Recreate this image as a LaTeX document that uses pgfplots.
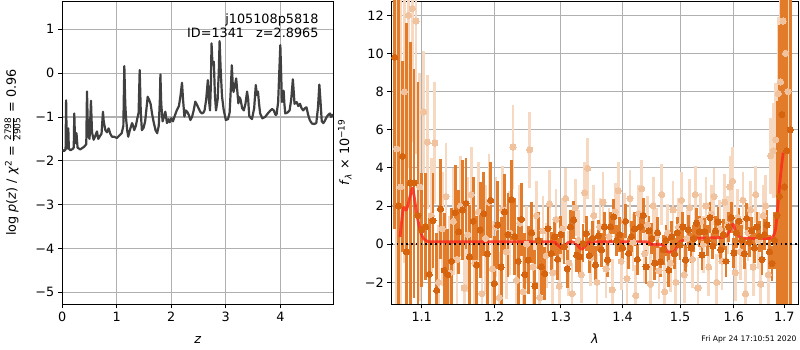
\documentclass[border=0pt]{standalone}
\usepackage{fontspec}
\setmainfont{DejaVu Sans}
\usepackage{amsmath}
\usepackage{pgfplots}
\usepackage{pgfplotstable}
\pgfplotsset{compat=1.18}

\definecolor{curve}{RGB}{64,64,64}
\definecolor{gridc}{RGB}{176,176,176}
\definecolor{dbar}{RGB}{226,124,42}
\definecolor{ddot}{RGB}{214,100,14}
\definecolor{lbar}{RGB}{247,216,192}
\definecolor{ldot}{RGB}{241,194,158}
\definecolor{model}{RGB}{250,45,30}

\pgfplotstableread{
x y e
1.065 9.8 9.0
1.070 2.0 11.0
1.075 4.6 5.0
1.080 -0.4 12.0
1.085 3.2 7.4
1.090 3.2 6.0
1.095 1.5 7.0
1.100 0.74 3.0
1.105 0.91 2.8
1.110 -1.58 3.2
1.115 1.23 2.5
1.120 -2.42 3.0
1.125 1.84 2.6
1.130 -1.37 3.0
1.135 -1.60 2.4
1.140 -0.9 2.8
1.145 1.65 2.5
1.150 0.65 2.2
1.155 1.79 2.6
1.160 2.14 2.4
1.165 -0.67 2.7
1.170 1.2 2.3
1.175 -1.1 2.6
1.180 0.74 2.5
1.185 1.6 2.2
1.190 -0.5 2.8
1.195 2.3 2.0
1.200 -2.07 2.5
1.205 1.0 2.3
1.210 -1.2 2.6
1.215 1.7 2.0
1.220 0.5 2.2
1.225 2.32 2.1
1.230 0.4 2.0
1.235 -0.9 2.3
1.240 1.3 1.9
1.245 -1.6 2.2
1.250 -0.84 1.8
1.255 0.6 1.6
1.260 -2.2 1.9
1.265 0.2 1.5
1.270 -1.19 1.5
1.275 -1.54 1.4
1.280 0.82 1.3
1.285 -0.49 1.1
1.290 0.38 1.0
1.295 -0.8 1.1
1.300 0.5 1.0
1.305 -0.14 0.9
1.310 -1.3 1.0
1.315 0.91 0.9
1.320 1.26 1.0
1.325 -0.58 0.9
1.330 -0.67 0.9
1.335 0.04 1.0
1.340 0.56 0.9
1.345 -0.6 0.9
1.350 0.3 0.9
1.355 -1.1 1.0
1.360 0.45 0.8
1.365 -0.3 0.9
1.370 0.9 0.8
1.375 -0.84 0.9
1.380 0.91 0.8
1.385 1.44 0.9
1.390 0.2 0.8
1.395 0.5 0.9
1.400 -0.2 0.8
1.405 1.2 0.9
1.410 -0.49 0.8
1.415 0.4 0.8
1.420 0.8 0.9
1.425 -0.8 0.8
1.430 0.9 0.8
1.435 1.5 0.9
1.440 -1.19 0.9
1.445 0.7 0.8
1.450 0.3 0.8
1.455 -1.0 0.9
1.460 0.6 0.8
1.465 -0.93 0.8
1.470 -0.3 0.8
1.475 0.2 0.8
1.480 -1.37 0.9
1.485 0.39 0.8
1.490 -0.5 0.8
1.495 0.6 0.8
1.500 -0.05 0.8
1.505 0.9 0.8
1.510 -0.84 0.8
1.515 0.74 0.8
1.520 -0.2 0.8
1.525 0.3 0.7
1.530 1.1 0.8
1.535 0.65 0.8
1.540 -0.58 0.8
1.545 0.65 0.7
1.550 0.2 0.8
1.555 1.4 0.8
1.560 -0.1 0.7
1.565 0.7 0.8
1.570 1.17 0.8
1.575 -0.3 0.7
1.580 0.5 0.8
1.585 -0.9 0.8
1.590 0.91 0.8
1.595 1.4 0.8
1.600 -0.47 0.8
1.605 0.6 0.8
1.610 1.2 0.7
1.615 0.2 0.8
1.620 -0.5 0.8
1.625 1.35 0.8
1.630 0.1 0.8
1.635 0.7 0.7
1.640 -0.2 0.8
1.645 0.9 0.8
1.650 0.4 0.8
1.655 -0.8 0.8
1.660 0.5 0.8
1.665 1.0 0.8
1.670 -0.4 0.9
1.675 -1.02 0.9
1.680 0.2 1.5
1.685 1.5 6.0
1.690 2.5 9.0
1.695 6.8 10.0
1.700 3.0 12.0
1.705 4.9 14.0
1.712 6.0 16.0
}\darkdata

\pgfplotstableread{
x y e
1.0675 5.0 12
1.0725 3.0 10
1.0775 8.0 9
1.0825 12.0 8
1.0875 12.35 7
1.0925 11.7 7
1.0975 3.0 6
1.1025 6.93 3.2
1.1075 5.35 3.5
1.1125 1.5 3.0
1.1175 5.3 3.2
1.1225 -2.0 3.0
1.1275 0.8 3.0
1.1325 2.5 2.8
1.1375 -1.5 3.0
1.1425 1.2 2.8
1.1475 -0.8 3.0
1.1525 2.0 2.6
1.1575 -2.3 2.8
1.1625 0.5 3.0
1.1675 2.6 2.5
1.1725 -1.0 2.7
1.1775 1.7 2.6
1.1825 -2.6 2.5
1.1875 0.3 2.8
1.1925 2.2 2.5
1.1975 -1.3 2.5
1.2025 0.9 2.6
1.2075 -2.8 2.4
1.2125 1.8 2.3
1.2175 -0.4 2.5
1.2225 0.6 2.2
1.2275 5.09 2.2
1.2325 -1.9 2.3
1.2375 1.1 2.0
1.2425 -2.5 2.2
1.2475 0.0 2.0
1.2525 4.95 2.0
1.2575 -1.2 2.0
1.2625 1.5 1.8
1.2675 -2.8 1.9
1.2725 0.7 1.8
1.2775 -0.6 1.7
1.2825 2.1 1.8
1.2875 -1.5 1.7
1.2925 1.3 1.6
1.2975 -2.2 1.7
1.3025 0.8 1.6
1.3075 2.4 1.6
1.3125 -1.0 1.7
1.3175 -2.6 1.6
1.3225 1.9 1.5
1.3275 0.2 1.6
1.3325 -1.6 1.5
1.3375 2.7 1.6
1.3425 3.98 1.6
1.3475 -0.7 1.5
1.3525 1.5 1.6
1.3575 -2.0 1.5
1.3625 0.9 1.5
1.3675 2.2 1.6
1.3725 -1.3 1.5
1.3775 0.4 1.5
1.3825 -2.4 1.6
1.3875 1.7 1.5
1.3925 2.8 1.5
1.3975 -0.9 1.5
1.4025 1.2 1.5
1.4075 -1.8 1.6
1.4125 2.4 1.5
1.4175 0.1 1.5
1.4225 -2.7 1.6
1.4275 1.6 1.5
1.4325 2.9 1.5
1.4375 -0.5 1.5
1.4425 1.0 1.5
1.4475 -2.1 1.6
1.4525 2.0 1.5
1.4575 0.4 1.5
1.4625 -1.4 1.5
1.4675 2.6 1.6
1.4725 -2.5 1.5
1.4775 0.6 1.5
1.4825 -1.0 1.5
1.4875 1.8 1.5
1.4925 -2.0 1.6
1.4975 0.9 1.5
1.5025 2.3 1.5
1.5075 -1.6 1.5
1.5125 0.3 1.5
1.5175 1.9 1.5
1.5225 -0.8 1.5
1.5275 2.6 1.5
1.5325 -2.3 1.6
1.5375 1.2 1.5
1.5425 0.0 1.5
1.5475 2.0 1.5
1.5525 -1.2 1.5
1.5575 1.6 1.5
1.5625 2.5 1.5
1.5675 -2.0 1.5
1.5725 0.8 1.5
1.5775 -0.9 1.5
1.5825 2.2 1.5
1.5875 1.0 1.5
1.5925 3.0 1.6
1.5975 3.3 1.8
1.6025 -1.5 1.5
1.6075 1.4 1.5
1.6125 -0.4 1.5
1.6175 2.3 1.5
1.6225 -2.6 1.6
1.6275 0.6 1.5
1.6325 1.8 1.5
1.6375 -1.2 1.5
1.6425 2.6 1.5
1.6475 0.2 1.5
1.6525 -2.1 1.5
1.6575 1.5 1.6
1.6625 2.0 1.6
1.6675 -1.6 1.7
1.6725 4.63 2.0
1.6775 4.9 2.5
1.6825 5.47 3.0
1.6875 7.9 4.0
1.6925 8.5 5.0
1.6975 11.7 8.0
1.7025 10.0 10.0
1.7075 8.0 12.0
}\lightdata

\pgfplotsset{
  every axis/.append style={
    scale only axis,
    font=\fontsize{12.8}{15}\selectfont,
    axis line style={black, line width=0.9pt},
    grid=major,
    major grid style={gridc, line width=1.1pt},
    tick align=outside,
    tick pos=left,
    major tick length=4.5pt,
    tick style={black, line width=0.9pt},
    /pgf/number format/assume math mode=true,
    xlabel style={at={(axis description cs:0.5,-0.132)}, anchor=base},
  }
}

\begin{document}
\begin{tikzpicture}
\useasboundingbox (0,0) rectangle (800pt,350pt);

\begin{axis}[
  at={(62.3pt,46pt)}, anchor=south west,
  width=271pt, height=303pt,
  xmin=0, xmax=4.972, ymin=-5.267, ymax=1.646,
  xtick={0,1,2,3,4},
  ytick={-5,-4,-3,-2,-1,0,1},
  yticklabels={−5,−4,−3,−2,−1,0,1},
  xlabel={\textit{z}},
  ylabel={log \textit{p}(\textit{z}) / \textit{χ}\textsuperscript{2} = $\frac{\text{2798}}{\text{2905}}$ = 0.96},
  ylabel style={at={(axis description cs:-0.171,0.5)}, anchor=base},
]
\addplot[curve, line width=2.2pt, line join=round] coordinates {
(0.00,-1.75) (0.03,-1.78) (0.06,-1.74) (0.07,-0.62) (0.08,-1.5) (0.09,-1.72) (0.10,-1.45) (0.11,-1.26) (0.12,-1.72) (0.15,-1.76) (0.19,-1.73) (0.21,-1.7) (0.22,-0.92) (0.235,-1.6) (0.25,-1.4) (0.26,-1.37) (0.28,-1.7) (0.33,-1.74) (0.40,-1.68) (0.44,-1.62) (0.453,-0.42) (0.47,-1.3) (0.48,-1.45) (0.50,-1.5) (0.526,-0.63) (0.545,-1.35) (0.575,-1.52) (0.60,-1.45) (0.636,-1.33) (0.66,-1.5) (0.685,-1.45) (0.72,-1.38) (0.746,-0.88) (0.76,-1.1) (0.79,-1.3) (0.82,-1.35) (0.85,-1.26) (0.88,-1.38) (0.91,-1.45) (0.95,-1.45) (1.00,-1.48) (1.05,-1.42) (1.09,-1.37) (1.12,-1.2) (1.138,0.16) (1.155,-0.7) (1.17,-1.03) (1.19,-1.3) (1.21,-1.45) (1.24,-1.3) (1.28,-1.14) (1.30,-1.2) (1.32,-1.3) (1.35,-1.2) (1.37,-1.07) (1.40,-0.9) (1.42,0.07) (1.44,-0.9) (1.46,-1.3) (1.49,-1.25) (1.52,-1.1) (1.545,-0.8) (1.566,-0.54) (1.59,-0.6) (1.62,-0.7) (1.65,-0.95) (1.68,-1.14) (1.71,-1.3) (1.74,-1.37) (1.77,-1.2) (1.79,-0.6) (1.80,-0.03) (1.815,-0.7) (1.84,-1.1) (1.865,-1.0) (1.89,-0.88) (1.92,-1.14) (1.95,-1.05) (1.97,-1.12) (2.00,-1.03) (2.03,-1.1) (2.07,-0.95) (2.10,-0.85) (2.14,-0.75) (2.17,-0.5) (2.196,-0.22) (2.215,-0.6) (2.24,-0.99) (2.265,-0.85) (2.29,-0.88) (2.32,-0.95) (2.35,-1.07) (2.38,-1.0) (2.41,-0.85) (2.44,-0.65) (2.47,-0.72) (2.50,-0.80) (2.53,-0.88) (2.56,-0.92) (2.59,-0.9) (2.61,-0.85) (2.64,-0.6) (2.67,-0.16) (2.69,-0.6) (2.71,-0.85) (2.725,-0.3) (2.738,0.68) (2.755,0.2) (2.78,0.26) (2.80,-0.5) (2.82,-0.85) (2.85,-0.6) (2.87,0.0) (2.886,0.73) (2.905,0.1) (2.93,-0.53) (2.96,-0.83) (3.00,-1.07) (3.04,-1.05) (3.07,-0.9) (3.09,-0.4) (3.11,0.18) (3.125,-0.2) (3.14,-0.43) (3.165,-0.3) (3.19,-0.12) (3.21,-0.4) (3.23,-0.69) (3.25,-0.55) (3.27,-0.6) (3.30,-0.8) (3.33,-0.85) (3.36,-0.7) (3.39,-0.42) (3.41,-0.6) (3.43,-0.98) (3.48,-1.05) (3.52,-0.8) (3.55,-0.27) (3.57,-0.5) (3.59,-0.42) (3.61,-0.7) (3.63,-0.92) (3.67,-1.03) (3.72,-1.0) (3.77,-0.92) (3.82,-0.85) (3.85,-0.82) (3.88,-0.85) (3.91,-0.95) (3.93,-0.95) (3.96,-0.66) (3.98,0.0) (4.00,0.64) (4.015,0.0) (4.03,-0.66) (4.06,-0.4) (4.075,-0.7) (4.09,-0.92) (4.13,-0.9) (4.17,-0.85) (4.20,-0.6) (4.23,-0.14) (4.25,-0.5) (4.26,-0.7) (4.30,-0.66) (4.33,-0.75) (4.36,-0.7) (4.39,-0.8) (4.42,-0.85) (4.45,-0.8) (4.48,-0.78) (4.51,-0.95) (4.54,-1.07) (4.58,-1.15) (4.62,-1.16) (4.66,-1.14) (4.69,-0.8) (4.716,-0.26) (4.735,-0.6) (4.76,-1.1) (4.79,-1.14) (4.82,-1.08) (4.85,-1.0) (4.88,-0.95) (4.91,-0.92) (4.93,-1.0) (4.95,-0.95) (4.97,-1.0)
};
\node[anchor=north east, align=right, inner sep=0pt, font=\fontsize{12.8}{13.5}\selectfont] at (rel axis cs:0.946,0.957) {j105108p5818\\ID=1341\hspace{0.95em}z=2.8965};
\end{axis}

\begin{axis}[
  at={(391.7pt,46pt)}, anchor=south west,
  width=406.6pt, height=303pt,
  xmode=log,
  xmin=1.0611, xmax=1.7288, ymin=-3.14, ymax=12.75,
  xtick={1.1,1.2,1.3,1.4,1.5,1.6,1.7},
  xticklabels={1.1,1.2,1.3,1.4,1.5,1.6,1.7},
  minor xtick={},
  ytick={-2,0,2,4,6,8,10,12},
  yticklabels={−2,0,2,4,6,8,10,12},
  xlabel={\textit{λ}},
  ylabel={\textit{f}\textsubscript{\textit{λ}} × 10\textsuperscript{−19}},
  ylabel style={at={(axis description cs:-0.105,0.5)}, anchor=base},
]
\addplot[ldot, only marks, mark=*, mark size=3.1pt, mark options={draw=ldot, fill=ldot, line width=0pt},
  error bars/.cd, y dir=both, y explicit, error mark=none,
  error bar style={line width=2.8pt, color=lbar}]
  table[x=x, y=y, y error=e] {\lightdata};
\addplot[ddot, only marks, mark=*, mark size=3.1pt, mark options={draw=ddot, fill=ddot, line width=0pt},
  error bars/.cd, y dir=both, y explicit, error mark=none,
  error bar style={line width=2.8pt, color=dbar}]
  table[x=x, y=y, y error=e] {\darkdata};
\addplot[black, line width=1.6pt, dash pattern=on 1.6pt off 3.2pt] coordinates {(1.0611,0) (1.7288,0)};
\addplot[model, opacity=0.85, line width=2.8pt, line join=round, smooth, tension=0.4] coordinates {
(1.0718,0.38) (1.076,1.88) (1.080,1.79) (1.0847,2.49) (1.0882,2.93) (1.0934,1.61) (1.0978,0.74) (1.1022,0.3) (1.108,0.14) (1.115,0.12) (1.20,0.12) (1.285,0.12) (1.293,0.02) (1.303,-0.24) (1.311,0.08) (1.318,0.12) (1.323,0.06) (1.333,-0.27) (1.343,0.08) (1.35,0.12) (1.44,0.12) (1.448,-0.02) (1.466,-0.03) (1.471,-0.1) (1.477,-0.38) (1.484,-0.42) (1.491,-0.36) (1.497,0.05) (1.506,0.21) (1.524,0.3) (1.580,0.36) (1.590,0.6) (1.598,1.05) (1.604,0.65) (1.612,0.35) (1.625,0.3) (1.670,0.3) (1.677,0.4) (1.682,0.74) (1.686,1.79) (1.690,3.0) (1.695,4.25) (1.698,4.8)
};
\end{axis}

\node[anchor=base east, inner sep=0pt, font=\fontsize{7.6}{9}\selectfont] at (796.7pt,8.3pt) {Fri Apr 24 17:10:51 2020};
\end{tikzpicture}
\end{document}
